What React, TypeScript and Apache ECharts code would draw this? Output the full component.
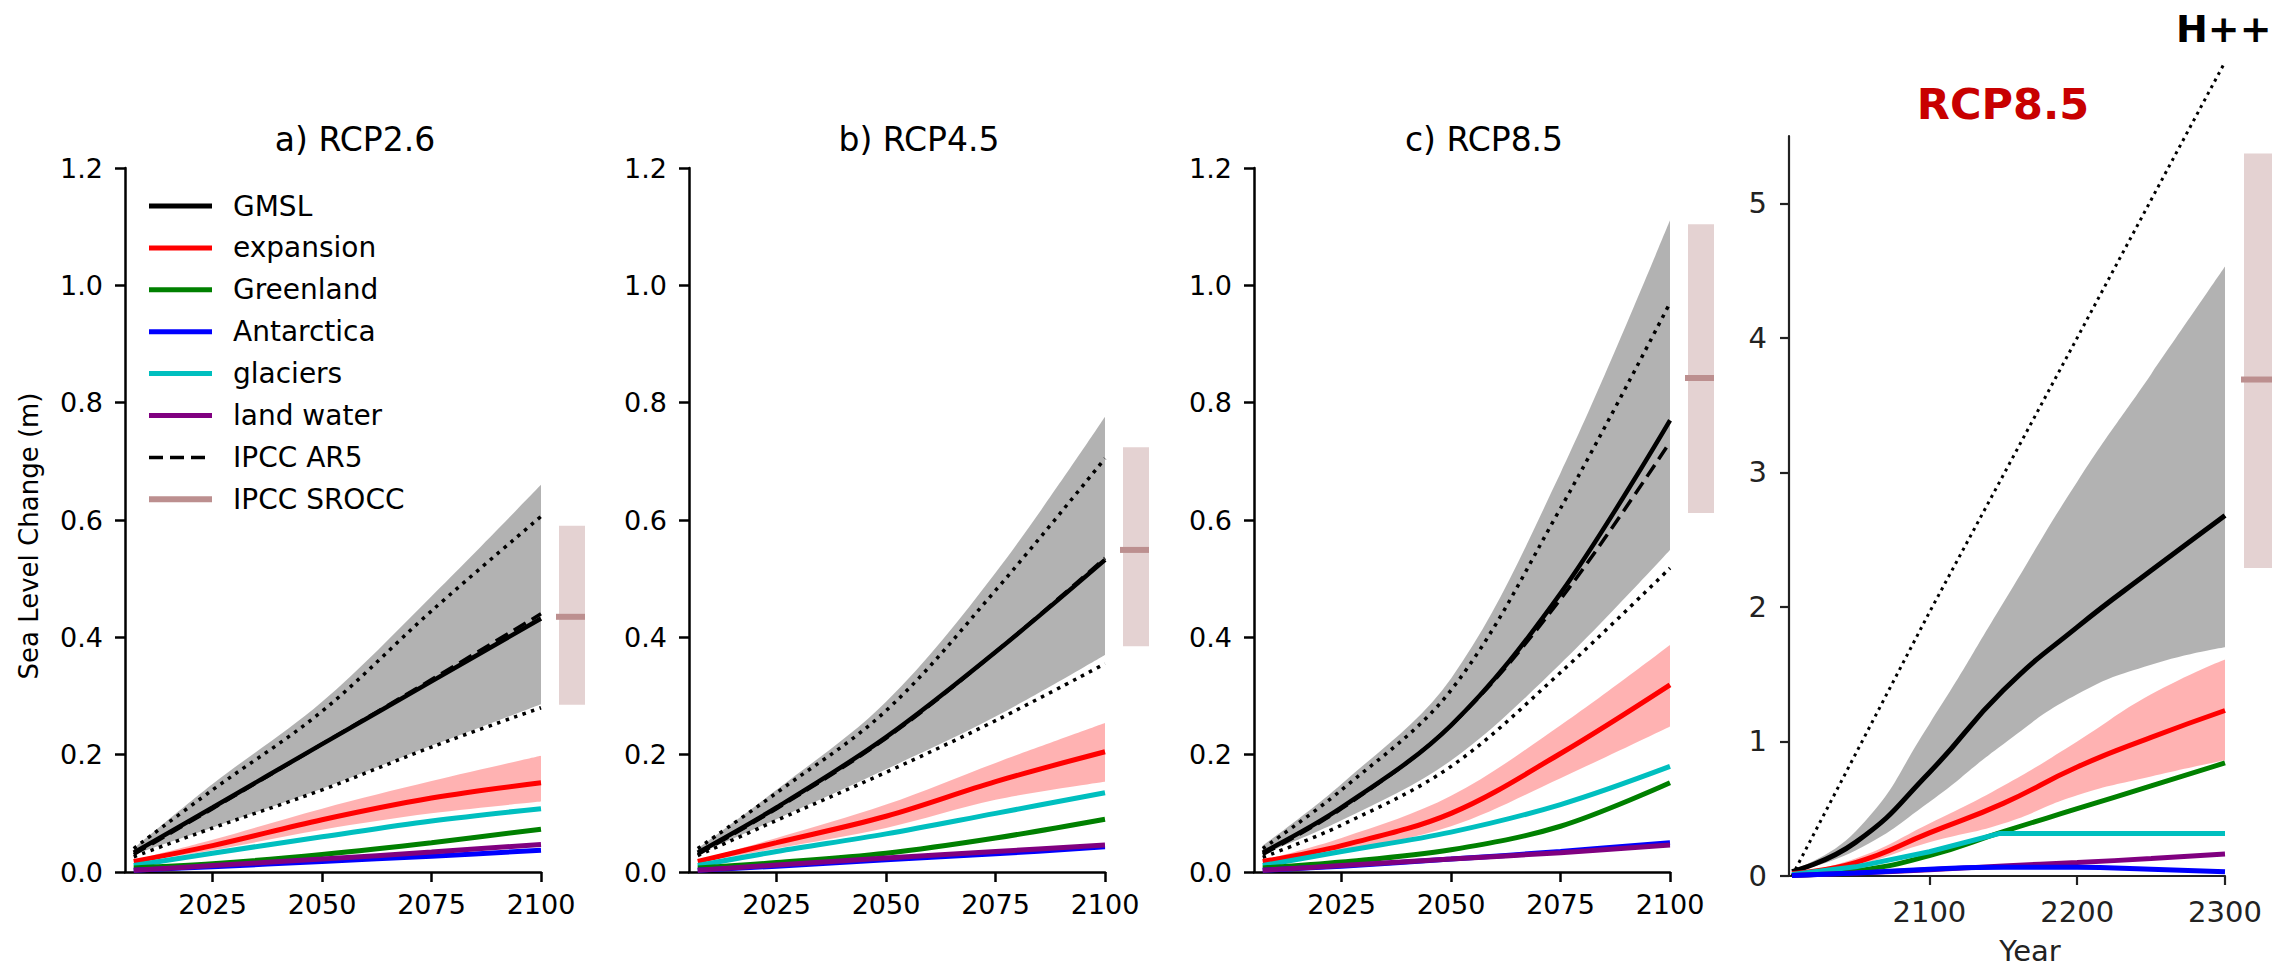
import React, { useEffect, useRef } from "react";
import * as echarts from "echarts";

// ---------------- data: sea level change (m) ----------------
const YEARS = [2007, 2025, 2050, 2075, 2100];

// a) RCP2.6
const RCP26_GMSL = [0.033, 0.11, 0.218, 0.325, 0.432];
const RCP26_GMSL_LO = [0.03, 0.076, 0.142, 0.215, 0.286];
const RCP26_GMSL_HI = [0.04, 0.15, 0.29, 0.47, 0.66];
const RCP26_AR5 = [0.03, 0.108, 0.218, 0.328, 0.44];
const RCP26_AR5_LO = [0.026, 0.075, 0.14, 0.213, 0.28];
const RCP26_AR5_HI = [0.04, 0.14, 0.274, 0.445, 0.606];
const RCP26_EXP = [0.018, 0.045, 0.089, 0.126, 0.152];
const RCP26_EXP_LO = [0.016, 0.037, 0.072, 0.1, 0.12];
const RCP26_EXP_HI = [0.02, 0.055, 0.108, 0.155, 0.198];
const RCP26_GLAC = [0.011, 0.032, 0.06, 0.087, 0.108];
const RCP26_GRL = [0.007, 0.014, 0.03, 0.05, 0.073];
const RCP26_ANT = [0.003, 0.009, 0.018, 0.027, 0.037];
const RCP26_LAND = [0.003, 0.011, 0.022, 0.034, 0.047];
const RCP26_SROCC = [0.285, 0.435, 0.59];

// b) RCP4.5
const RCP45_GMSL = [0.033, 0.11, 0.23, 0.375, 0.532];
const RCP45_GMSL_LO = [0.03, 0.09, 0.175, 0.265, 0.37];
const RCP45_GMSL_HI = [0.04, 0.14, 0.29, 0.51, 0.776];
const RCP45_AR5 = [0.03, 0.108, 0.228, 0.375, 0.535];
const RCP45_AR5_LO = [0.028, 0.088, 0.17, 0.258, 0.355];
const RCP45_AR5_HI = [0.04, 0.135, 0.275, 0.48, 0.705];
const RCP45_EXP = [0.018, 0.05, 0.095, 0.154, 0.205];
const RCP45_EXP_LO = [0.016, 0.04, 0.075, 0.123, 0.154];
const RCP45_EXP_HI = [0.02, 0.058, 0.115, 0.186, 0.254];
const RCP45_GLAC = [0.011, 0.035, 0.065, 0.1, 0.135];
const RCP45_GRL = [0.007, 0.016, 0.032, 0.058, 0.09];
const RCP45_ANT = [0.003, 0.01, 0.021, 0.031, 0.043];
const RCP45_LAND = [0.003, 0.012, 0.024, 0.035, 0.046];
const RCP45_SROCC = [0.385, 0.549, 0.724];

// c) RCP8.5
const RCP85_GMSL = [0.033, 0.11, 0.25, 0.475, 0.77];
const RCP85_GMSL_LO = [0.03, 0.088, 0.19, 0.355, 0.549];
const RCP85_GMSL_HI = [0.045, 0.15, 0.33, 0.68, 1.111];
const RCP85_AR5 = [0.03, 0.108, 0.25, 0.465, 0.733];
const RCP85_AR5_LO = [0.025, 0.08, 0.18, 0.34, 0.518];
const RCP85_AR5_HI = [0.04, 0.14, 0.31, 0.62, 0.97];
const RCP85_EXP = [0.018, 0.045, 0.1, 0.202, 0.319];
const RCP85_EXP_LO = [0.016, 0.036, 0.078, 0.16, 0.248];
const RCP85_EXP_HI = [0.02, 0.058, 0.13, 0.25, 0.387];
const RCP85_GLAC = [0.011, 0.035, 0.068, 0.115, 0.18];
const RCP85_GRL = [0.007, 0.017, 0.038, 0.078, 0.152];
const RCP85_ANT = [0.003, 0.01, 0.022, 0.035, 0.05];
const RCP85_LAND = [0.003, 0.011, 0.022, 0.033, 0.046];
const RCP85_SROCC = [0.612, 0.842, 1.104];

// RCP8.5 extended to 2300
const LONG_YEARS = [2007, 2050, 2100, 2150, 2200, 2250, 2300];
const LONG_GMSL = [0.033, 0.25, 0.77, 1.38, 1.85, 2.27, 2.68];
const LONG_GMSL_LO = [0.03, 0.19, 0.55, 0.98, 1.35, 1.57, 1.7];
const LONG_GMSL_HI = [0.045, 0.33, 1.13, 2.03, 2.93, 3.73, 4.53];
const LONG_EXP = [0.018, 0.1, 0.32, 0.54, 0.81, 1.03, 1.23];
const LONG_EXP_LO = [0.016, 0.078, 0.25, 0.39, 0.6, 0.74, 0.86];
const LONG_EXP_HI = [0.02, 0.13, 0.39, 0.67, 1.0, 1.35, 1.61];
const LONG_GRL = [0.007, 0.038, 0.152, 0.33, 0.5, 0.67, 0.84];
const LONG_LAND = [0.003, 0.022, 0.046, 0.075, 0.1, 0.13, 0.163];
const LONG_ANT = [0.003, 0.022, 0.05, 0.065, 0.065, 0.05, 0.032];
const LONG_GLAC_YEARS = [2007, 2050, 2100, 2147, 2300];
const LONG_GLAC = [0.011, 0.068, 0.18, 0.315, 0.315];
const HPP_YEARS = [2007, 2100, 2200, 2300];
const HPP = [0, 1.96, 4.0, 6.05];
const LONG_SROCC = [2.29, 3.69, 5.37];

// axis ticks
const SHORT_X_TICKS = [2025, 2050, 2075, 2100];
const SHORT_Y_TICKS = [0, 0.2, 0.4, 0.6, 0.8, 1.0, 1.2];
const LONG_X_TICKS = [2100, 2200, 2300];
const LONG_Y_TICKS = [0, 1, 2, 3, 4, 5];

const PANEL_TITLES = ["a) RCP2.6", "b) RCP4.5", "c) RCP8.5"];
const LEGEND_NAMES = ["GMSL", "expansion", "Greenland", "Antarctica", "glaciers", "land water", "IPCC AR5", "IPCC SROCC"];

// ---------------- styles and layout ----------------
const FONT = '"DejaVu Sans", sans-serif';
const C = {
  gmsl: "#000000",
  expansion: "#ff0000",
  greenland: "#008000",
  antarctica: "#0000ff",
  glaciers: "#00bfbf",
  land: "#800080",
  srocc: "#bc8f8f",
  sroccFill: "rgba(188,143,143,0.4)",
  grayBand: "rgba(0,0,0,0.3)",
  redBand: "rgba(255,0,0,0.3)",
};
const LEGEND_STYLE = [
  { color: C.gmsl, width: 5, dash: null },
  { color: C.expansion, width: 5, dash: null },
  { color: C.greenland, width: 5, dash: null },
  { color: C.antarctica, width: 5, dash: null },
  { color: C.glaciers, width: 5, dash: null },
  { color: C.land, width: 5, dash: null },
  { color: C.gmsl, width: 3.5, dash: [14, 7] },
  { color: C.srocc, width: 6, dash: null },
];
const SHORT_BOXES = [
  { left: 125, barLeft: 559 },
  { left: 689, barLeft: 1123 },
  { left: 1254, barLeft: 1688 },
];
const SHORT_TOP = 168;
const SHORT_W = 416;
const SHORT_H = 704;
const BAR_W = 26;
const LONG_BOX = { left: 1789, top: 136, width: 436, height: 740, barLeft: 2244, barWidth: 30 };
const SMOOTH = 0.35;
const LONG_SMOOTH = 0.5;

const pairs = (xs: number[], ys: number[]) => xs.map((x, i) => [x, ys[i]]);

// Bezier segments through pixel points, same control-point rule as the line series' smoothing
function smoothSegments(p: number[][], s: number): string {
  const n = p.length;
  const cpOut: number[][] = [];
  const cpIn: number[][] = [];
  for (let i = 0; i < n; i++) {
    if (i === 0 || i === n - 1) {
      cpOut[i] = p[i];
      cpIn[i] = p[i];
      continue;
    }
    const prev = p[i - 1];
    const next = p[i + 1];
    const vx = next[0] - prev[0];
    const vy = next[1] - prev[1];
    const l0 = Math.hypot(p[i][0] - prev[0], p[i][1] - prev[1]);
    const l1 = Math.hypot(next[0] - p[i][0], next[1] - p[i][1]);
    const r = l0 + l1 > 0 ? l1 / (l0 + l1) : 0.5;
    cpOut[i] = [p[i][0] + vx * s * r, p[i][1] + vy * s * r];
    cpIn[i] = [p[i][0] - vx * s * (1 - r), p[i][1] - vy * s * (1 - r)];
  }
  let d = "";
  for (let i = 0; i < n - 1; i++) {
    d += ` C${cpOut[i][0]},${cpOut[i][1]} ${cpIn[i + 1][0]},${cpIn[i + 1][1]} ${p[i + 1][0]},${p[i + 1][1]}`;
  }
  return d;
}

function line(name: string, g: number, xs: number[], ys: number[], color: string, width: number, type: any = "solid", extra: any = {}) {
  return {
    type: "line",
    name,
    xAxisIndex: g,
    yAxisIndex: g,
    data: pairs(xs, ys),
    showSymbol: false,
    symbol: "none",
    smooth: SMOOTH,
    lineStyle: { color, width, type, cap: "butt" },
    itemStyle: { color },
    silent: true,
    ...extra,
  };
}

// shaded range between a lower and an upper curve
function band(name: string, g: number, xs: number[], lo: number[], hi: number[], color: string, smooth = SMOOTH) {
  return {
    type: "custom",
    name,
    xAxisIndex: g,
    yAxisIndex: g,
    silent: true,
    data: xs.map((x, i) => [x, lo[i], hi[i]]),
    encode: { x: 0, y: [1, 2] },
    renderItem: (params: any, api: any) => {
      if (params.dataIndexInside !== 0) return null;
      const n = params.dataInsideLength;
      const up: number[][] = [];
      const dn: number[][] = [];
      for (let j = 0; j < n; j++) {
        const x = api.value(0, j);
        dn.push(api.coord([x, api.value(1, j)]));
        up.push(api.coord([x, api.value(2, j)]));
      }
      const rev = dn.slice().reverse();
      const d = `M${up[0][0]},${up[0][1]}` + smoothSegments(up, smooth) + ` L${rev[0][0]},${rev[0][1]}` + smoothSegments(rev, smooth) + " Z";
      return { type: "path", shape: { pathData: d }, style: { fill: color } };
    },
  };
}

function sroccBar(g: number, values: number[]) {
  return {
    type: "custom",
    name: "IPCC SROCC range",
    xAxisIndex: g,
    yAxisIndex: g,
    silent: true,
    data: [values],
    renderItem: (_p: any, api: any) => {
      const lo = api.value(0);
      const med = api.value(1);
      const hi = api.value(2);
      const tl = api.coord([0, hi]);
      const br = api.coord([1, lo]);
      const m0 = api.coord([0, med]);
      const m1 = api.coord([1, med]);
      return {
        type: "group",
        children: [
          { type: "rect", shape: { x: tl[0], y: tl[1], width: br[0] - tl[0], height: br[1] - tl[1] }, style: { fill: C.sroccFill } },
          { type: "line", shape: { x1: m0[0] - 3, y1: m0[1], x2: m1[0], y2: m1[1] }, style: { stroke: C.srocc, lineWidth: 6 } },
        ],
      };
    },
  };
}

const SHORT_PANELS = [
  { gmsl: RCP26_GMSL, lo: RCP26_GMSL_LO, hi: RCP26_GMSL_HI, ar5: RCP26_AR5, ar5Lo: RCP26_AR5_LO, ar5Hi: RCP26_AR5_HI, exp: RCP26_EXP, expLo: RCP26_EXP_LO, expHi: RCP26_EXP_HI, glac: RCP26_GLAC, grl: RCP26_GRL, ant: RCP26_ANT, land: RCP26_LAND, srocc: RCP26_SROCC },
  { gmsl: RCP45_GMSL, lo: RCP45_GMSL_LO, hi: RCP45_GMSL_HI, ar5: RCP45_AR5, ar5Lo: RCP45_AR5_LO, ar5Hi: RCP45_AR5_HI, exp: RCP45_EXP, expLo: RCP45_EXP_LO, expHi: RCP45_EXP_HI, glac: RCP45_GLAC, grl: RCP45_GRL, ant: RCP45_ANT, land: RCP45_LAND, srocc: RCP45_SROCC },
  { gmsl: RCP85_GMSL, lo: RCP85_GMSL_LO, hi: RCP85_GMSL_HI, ar5: RCP85_AR5, ar5Lo: RCP85_AR5_LO, ar5Hi: RCP85_AR5_HI, exp: RCP85_EXP, expLo: RCP85_EXP_LO, expHi: RCP85_EXP_HI, glac: RCP85_GLAC, grl: RCP85_GRL, ant: RCP85_ANT, land: RCP85_LAND, srocc: RCP85_SROCC },
];

const DOTS: number[] = [3.5, 5.5];
const DASHES: number[] = [14, 7];
const yearLabel = (v: number) => String(Math.round(v));

function buildOption() {
  const grid: any[] = [];
  const xAxis: any[] = [];
  const yAxis: any[] = [];
  const series: any[] = [];
  const graphic: any[] = [];

  const axisBase = (color: string, w: number) => ({
    axisLine: { show: true, onZero: false, lineStyle: { color, width: w } },
    splitLine: { show: false },
  });

  SHORT_PANELS.forEach((p, i) => {
    const box = SHORT_BOXES[i];
    const g = i * 2;
    grid.push({ left: box.left, top: SHORT_TOP, width: SHORT_W, height: SHORT_H });
    grid.push({ left: box.barLeft, top: SHORT_TOP, width: BAR_W, height: SHORT_H });
    xAxis.push({
      gridIndex: g,
      type: "value",
      min: 2005,
      max: 2100,
      ...axisBase("#000", 2.5),
      axisTick: { show: true, length: 10, lineStyle: { color: "#000", width: 2.5 }, customValues: SHORT_X_TICKS },
      axisLabel: { customValues: SHORT_X_TICKS, fontSize: 27, fontFamily: FONT, color: "#000", margin: 19, formatter: yearLabel },
    });
    xAxis.push({ gridIndex: g + 1, type: "value", min: 0, max: 1, show: false });
    yAxis.push({
      gridIndex: g,
      type: "value",
      min: 0,
      max: 1.2,
      ...axisBase("#000", 2.5),
      axisTick: { show: true, length: 10, lineStyle: { color: "#000", width: 2.5 }, customValues: SHORT_Y_TICKS },
      axisLabel: { customValues: SHORT_Y_TICKS, fontSize: 27, fontFamily: FONT, color: "#000", margin: 22, formatter: (v: number) => v.toFixed(1) },
    });
    yAxis.push({ gridIndex: g + 1, type: "value", min: 0, max: 1.2, show: false });

    series.push(band("GMSL range", g, YEARS, p.lo, p.hi, C.grayBand));
    series.push(line("AR5 upper", g, YEARS, p.ar5Hi, "#000", 3.5, DOTS));
    series.push(line("AR5 lower", g, YEARS, p.ar5Lo, "#000", 3.5, DOTS));
    series.push(line("GMSL", g, YEARS, p.gmsl, C.gmsl, 4.5));
    series.push(line("IPCC AR5", g, YEARS, p.ar5, C.gmsl, 3.5, DASHES));
    series.push(band("expansion range", g, YEARS, p.expLo, p.expHi, C.redBand));
    series.push(line("expansion", g, YEARS, p.exp, C.expansion, 5));
    series.push(line("glaciers", g, YEARS, p.glac, C.glaciers, 5));
    series.push(line("Greenland", g, YEARS, p.grl, C.greenland, 5));
    series.push(line("Antarctica", g, YEARS, p.ant, C.antarctica, 5));
    series.push(line("land water", g, YEARS, p.land, C.land, 5));
    series.push(sroccBar(g + 1, p.srocc));

    graphic.push({
      type: "text",
      x: (box.left + box.barLeft + BAR_W) / 2,
      y: 139,
      style: { text: PANEL_TITLES[i], fontSize: 33, fontFamily: FONT, fill: "#000", align: "center", verticalAlign: "middle" },
    });
  });

  // extended RCP8.5 panel
  const gl = 6;
  const ls = { smooth: LONG_SMOOTH };
  grid.push({ left: LONG_BOX.left, top: LONG_BOX.top, width: LONG_BOX.width, height: LONG_BOX.height });
  grid.push({ left: LONG_BOX.barLeft, top: LONG_BOX.top, width: LONG_BOX.barWidth, height: LONG_BOX.height });
  xAxis.push({
    gridIndex: gl,
    type: "value",
    min: 2005,
    max: 2300,
    ...axisBase("#222", 2.2),
    axisTick: { show: true, length: 9, lineStyle: { color: "#222", width: 2.2 }, customValues: LONG_X_TICKS },
    axisLabel: { customValues: LONG_X_TICKS, fontSize: 29, fontFamily: FONT, color: "#222", margin: 21, formatter: yearLabel },
  });
  xAxis.push({ gridIndex: gl + 1, type: "value", min: 0, max: 1, show: false });
  yAxis.push({
    gridIndex: gl,
    type: "value",
    min: 0,
    max: 5.5,
    ...axisBase("#222", 2.2),
    axisTick: { show: true, length: 9, lineStyle: { color: "#222", width: 2.2 }, customValues: LONG_Y_TICKS },
    axisLabel: { customValues: LONG_Y_TICKS, fontSize: 29, fontFamily: FONT, color: "#222", margin: 22 },
  });
  yAxis.push({ gridIndex: gl + 1, type: "value", min: 0, max: 5.5, show: false });

  series.push(band("GMSL range", gl, LONG_YEARS, LONG_GMSL_LO, LONG_GMSL_HI, C.grayBand, LONG_SMOOTH));
  series.push(line("H++", gl, HPP_YEARS, HPP, "#000", 3, [3, 4.5], { clip: false, smooth: false }));
  series.push(line("GMSL", gl, LONG_YEARS, LONG_GMSL, C.gmsl, 5, "solid", ls));
  series.push(band("expansion range", gl, LONG_YEARS, LONG_EXP_LO, LONG_EXP_HI, C.redBand, LONG_SMOOTH));
  series.push(line("expansion", gl, LONG_YEARS, LONG_EXP, C.expansion, 5, "solid", ls));
  series.push(line("Greenland", gl, LONG_YEARS, LONG_GRL, C.greenland, 5, "solid", ls));
  series.push(line("glaciers", gl, LONG_GLAC_YEARS, LONG_GLAC, C.glaciers, 5, "solid", { smooth: false }));
  series.push(line("land water", gl, LONG_YEARS, LONG_LAND, C.land, 5, "solid", ls));
  series.push(line("Antarctica", gl, LONG_YEARS, LONG_ANT, C.antarctica, 5, "solid", ls));
  series.push(sroccBar(gl + 1, LONG_SROCC));

  // texts
  graphic.push({
    type: "text",
    x: 29,
    y: 536,
    rotation: Math.PI / 2,
    style: { text: "Sea Level Change (m)", fontSize: 26, fontFamily: FONT, fill: "#000", align: "center", verticalAlign: "middle" },
  });
  graphic.push({
    type: "text",
    x: 2030,
    y: 951,
    style: { text: "Year", fontSize: 29, fontFamily: FONT, fill: "#222", align: "center", verticalAlign: "middle" },
  });
  graphic.push({
    type: "text",
    x: 2003,
    y: 104,
    style: { text: "RCP8.5", fontSize: 43, fontWeight: "bold", fontFamily: FONT, fill: "#c80000", align: "center", verticalAlign: "middle" },
  });
  graphic.push({
    type: "text",
    x: 2176,
    y: 29,
    style: { text: "H++", fontSize: 38, fontWeight: "bold", fontFamily: FONT, fill: "#000", align: "left", verticalAlign: "middle" },
  });

  // legend drawn in the first panel
  LEGEND_NAMES.forEach((name, i) => {
    const y = 206 + i * 41.9;
    const st = LEGEND_STYLE[i];
    graphic.push({
      type: "line",
      shape: { x1: 149, y1: y, x2: 212, y2: y },
      style: { stroke: st.color, lineWidth: st.width, lineDash: st.dash || undefined },
      silent: true,
    });
    graphic.push({
      type: "text",
      x: 233,
      y,
      style: { text: name, fontSize: 28, fontFamily: FONT, fill: "#000", align: "left", verticalAlign: "middle" },
    });
  });

  return {
    animation: false,
    backgroundColor: "#ffffff",
    textStyle: { fontFamily: FONT },
    grid,
    xAxis,
    yAxis,
    series,
    graphic,
  };
}

export default function App() {
  const ref = useRef<HTMLDivElement>(null);
  useEffect(() => {
    document.body.style.margin = "0";
    document.body.style.overflow = "hidden";
    if (!ref.current) return;
    const chart = echarts.init(ref.current, null, { renderer: "svg" });
    chart.setOption(buildOption() as any);
    return () => chart.dispose();
  }, []);
  return <div ref={ref} style={{ width: 2272, height: 970, background: "#fff" }} />;
}
